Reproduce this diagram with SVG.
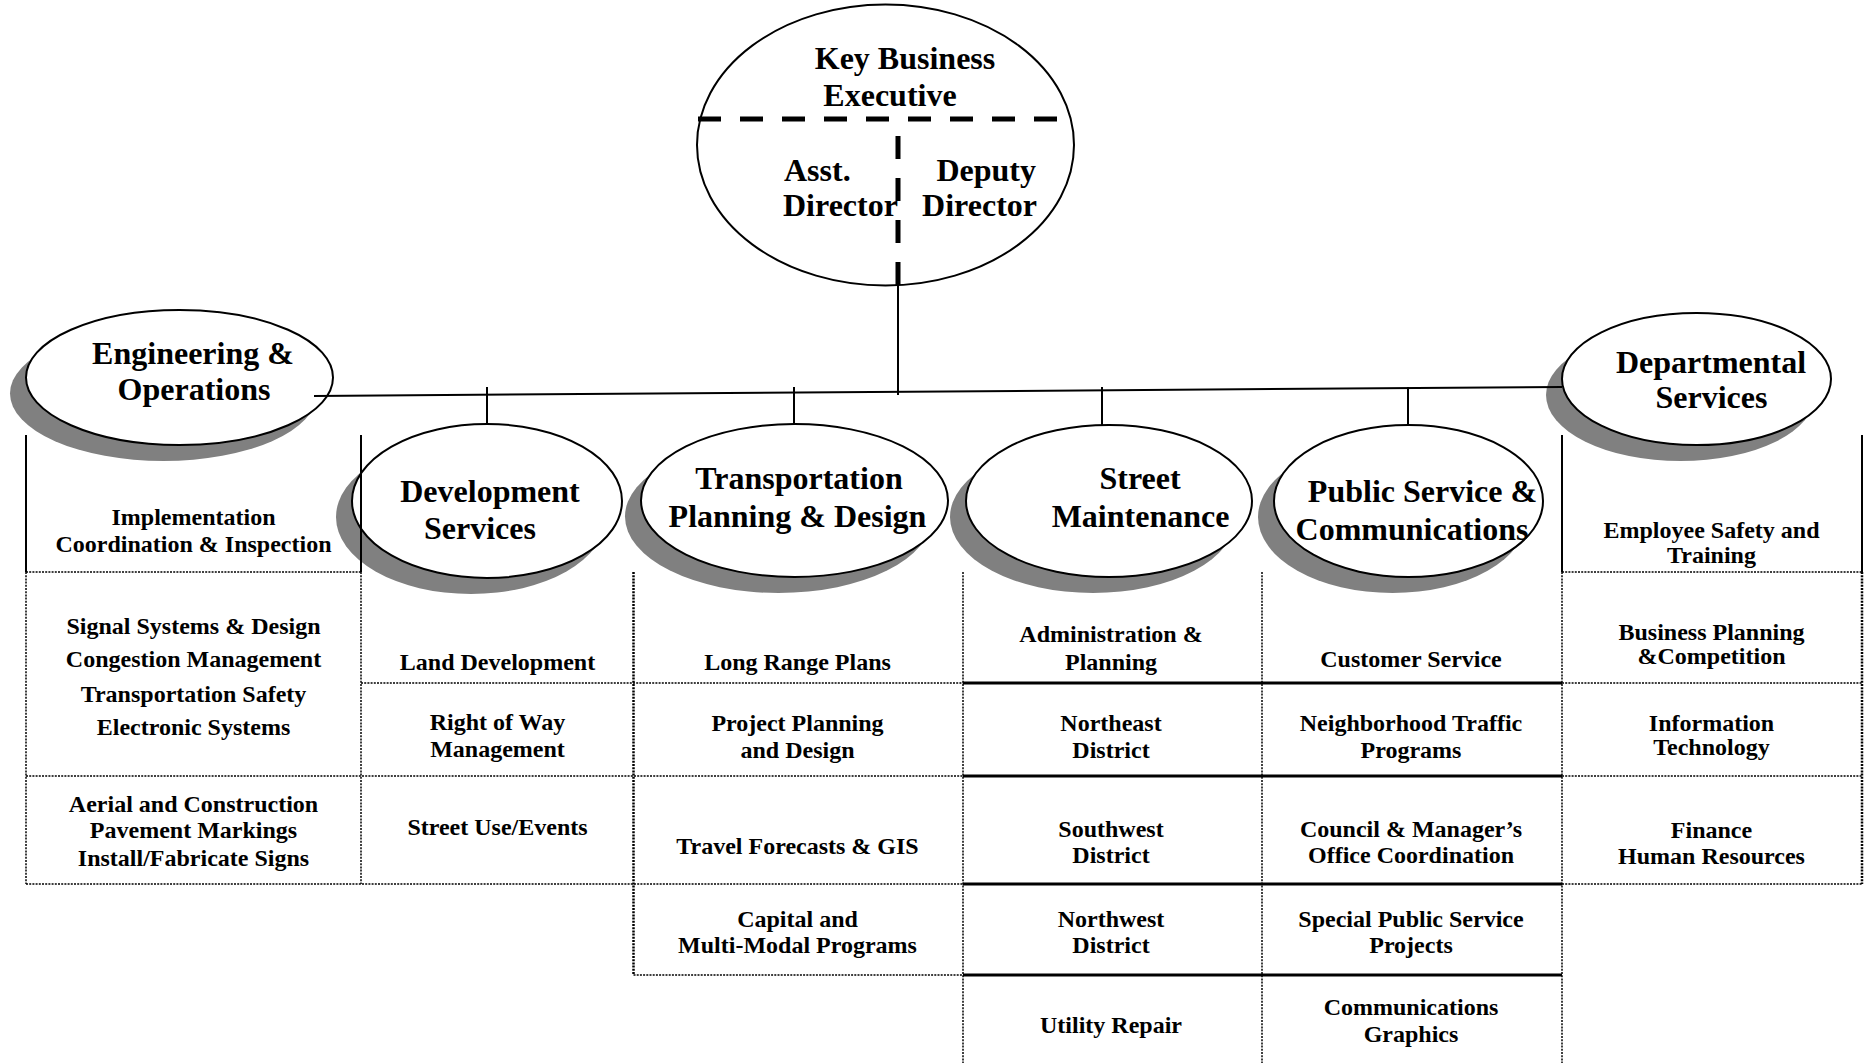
<svg xmlns="http://www.w3.org/2000/svg" width="1865" height="1063" viewBox="0 0 1865 1063">
  <style>
    .shadow { fill: #808080; }
    .oval { fill: #ffffff; stroke: #000000; stroke-width: 2; }
    .head { font-family: "Liberation Serif", "Times New Roman", serif; font-weight: bold; font-size: 32px; fill: #000000; text-anchor: middle; }
    .item { font-family: "Liberation Serif", "Times New Roman", serif; font-weight: bold; font-size: 24px; fill: #000000; text-anchor: middle; }
    .link { stroke: #000000; stroke-width: 2; fill: none; }
    .split { stroke: #000000; stroke-width: 5; stroke-dasharray: 23 19; fill: none; }
    .solid { stroke: #000000; stroke-width: 2; fill: none; }
    .rule { stroke: #000000; stroke-width: 3; fill: none; }
    .dot { stroke: #000000; stroke-width: 1.5; stroke-dasharray: 2 1.2; fill: none; }
    .dotb { stroke: #000000; stroke-width: 2.5; stroke-dasharray: 2 1.2; fill: none; }
  </style>
  <rect width="1865" height="1063" fill="#ffffff"/>

  <!-- executive oval, split into director areas -->
  <g id="key-business-executive">
    <ellipse class="oval" cx="885.5" cy="145" rx="188.5" ry="140.5"/>
    <line class="split" x1="698" y1="119" x2="1059" y2="119"/>
    <line class="split" x1="898" y1="136" x2="898" y2="285"/>
    <text class="head" x="905" y="69">Key Business</text>
    <text class="head" x="890" y="106">Executive</text>
    <text class="head" x="784" y="181" style="text-anchor:start">Asst.</text>
    <text class="head" x="783" y="216" style="text-anchor:start">Director</text>
    <text class="head" x="1036" y="181" style="text-anchor:end">Deputy</text>
    <text class="head" x="1037" y="216" style="text-anchor:end">Director</text>
  </g>

  <!-- division ovals with drop shadows -->
  <g id="engineering-operations">
    <ellipse class="shadow" cx="163.5" cy="393.5" rx="153.5" ry="67.5"/>
    <ellipse class="oval" cx="179.5" cy="377.5" rx="153.5" ry="67.5"/>
    <text class="head" x="193" y="364">Engineering &amp;</text>
    <text class="head" x="194" y="400">Operations</text>
  </g>

  <g id="development-services">
    <ellipse class="shadow" cx="471" cy="517" rx="135" ry="77"/>
    <ellipse class="oval" cx="487" cy="501" rx="135" ry="77"/>
    <text class="head" x="490" y="502">Development</text>
    <text class="head" x="480" y="539">Services</text>
  </g>

  <g id="transportation-planning-design">
    <ellipse class="shadow" cx="778.5" cy="516.5" rx="153.5" ry="76.5"/>
    <ellipse class="oval" cx="794.5" cy="500.5" rx="153.5" ry="76.5"/>
    <text class="head" x="799" y="489">Transportation</text>
    <text class="head" x="797.5" y="527">Planning &amp; Design</text>
  </g>

  <g id="street-maintenance">
    <ellipse class="shadow" cx="1093" cy="517" rx="143" ry="76"/>
    <ellipse class="oval" cx="1109" cy="501" rx="143" ry="76"/>
    <text class="head" x="1140" y="489">Street</text>
    <text class="head" x="1140.5" y="527">Maintenance</text>
  </g>

  <g id="public-service-communications">
    <ellipse class="shadow" cx="1392.5" cy="517" rx="134.5" ry="76"/>
    <ellipse class="oval" cx="1408.5" cy="501" rx="134.5" ry="76"/>
    <text class="head" x="1422.5" y="502">Public Service &amp;</text>
    <text class="head" x="1412" y="540">Communications</text>
  </g>

  <g id="departmental-services">
    <ellipse class="shadow" cx="1680.5" cy="395" rx="134.5" ry="66"/>
    <ellipse class="oval" cx="1696.5" cy="379" rx="134.5" ry="66"/>
    <text class="head" x="1711" y="373">Departmental</text>
    <text class="head" x="1711.5" y="408">Services</text>
  </g>

  <!-- reporting lines -->
  <g id="connectors">
    <line class="link" x1="898" y1="285" x2="898" y2="395"/>
    <line class="link" x1="314" y1="396" x2="1562" y2="387"/>
    <line class="link" x1="487" y1="387" x2="487" y2="424"/>
    <line class="link" x1="794" y1="387" x2="794" y2="424"/>
    <line class="link" x1="1102" y1="387" x2="1102" y2="425"/>
    <line class="link" x1="1408" y1="387" x2="1408" y2="425"/>
  </g>

  <!-- function table under the divisions -->
  <g id="function-grid">
    <!-- solid frame under the two side ovals -->
    <line class="solid" x1="26" y1="435" x2="26" y2="572"/>
    <line class="solid" x1="361" y1="435" x2="361" y2="572"/>
    <line class="solid" x1="1562" y1="435" x2="1562" y2="572"/>
    <line class="solid" x1="1862" y1="435" x2="1862" y2="572"/>

    <!-- dotted verticals -->
    <line class="dot" x1="26" y1="572" x2="26" y2="884"/>
    <line class="dot" x1="361" y1="572" x2="361" y2="884"/>
    <line class="dotb" x1="633.5" y1="572" x2="633.5" y2="975"/>
    <line class="dot" x1="963" y1="572" x2="963" y2="1063"/>
    <line class="dot" x1="1262" y1="572" x2="1262" y2="1063"/>
    <line class="dot" x1="1562" y1="572" x2="1562" y2="1063"/>
    <line class="dotb" x1="1862" y1="572" x2="1862" y2="884"/>

    <!-- dotted horizontals -->
    <line class="dot" x1="26" y1="572" x2="361" y2="572"/>
    <line class="dot" x1="1562" y1="572" x2="1862" y2="572"/>
    <line class="dot" x1="361" y1="683" x2="963" y2="683"/>
    <line class="dot" x1="1562" y1="683" x2="1862" y2="683"/>
    <line class="dot" x1="26" y1="776" x2="963" y2="776"/>
    <line class="dot" x1="1562" y1="776" x2="1862" y2="776"/>
    <line class="dot" x1="26" y1="884" x2="963" y2="884"/>
    <line class="dot" x1="1562" y1="884" x2="1862" y2="884"/>
    <line class="dot" x1="633.5" y1="975" x2="963" y2="975"/>

    <!-- solid rules in the street and public service columns -->
    <line class="rule" x1="963" y1="683" x2="1562" y2="683"/>
    <line class="rule" x1="963" y1="776" x2="1562" y2="776"/>
    <line class="rule" x1="963" y1="884" x2="1562" y2="884"/>
    <line class="rule" x1="963" y1="975" x2="1562" y2="975"/>
  </g>

  <g id="engineering-functions">
    <text class="item" x="193.5" y="525">Implementation</text>
    <text class="item" x="193.5" y="552">Coordination &amp; Inspection</text>
    <text class="item" x="193.5" y="634">Signal Systems &amp; Design</text>
    <text class="item" x="193.5" y="667">Congestion Management</text>
    <text class="item" x="193.5" y="702">Transportation Safety</text>
    <text class="item" x="193.5" y="735">Electronic Systems</text>
    <text class="item" x="193.5" y="812">Aerial and Construction</text>
    <text class="item" x="193.5" y="838">Pavement Markings</text>
    <text class="item" x="193.5" y="866">Install/Fabricate Signs</text>
  </g>

  <g id="development-functions">
    <text class="item" x="497.5" y="670">Land Development</text>
    <text class="item" x="497.5" y="730">Right of Way</text>
    <text class="item" x="497.5" y="757">Management</text>
    <text class="item" x="497.5" y="835">Street Use/Events</text>
  </g>

  <g id="transportation-functions">
    <text class="item" x="797.5" y="670">Long Range Plans</text>
    <text class="item" x="797.5" y="731">Project Planning</text>
    <text class="item" x="797.5" y="758">and Design</text>
    <text class="item" x="797.5" y="854">Travel Forecasts &amp; GIS</text>
    <text class="item" x="797.5" y="927">Capital and</text>
    <text class="item" x="797.5" y="953">Multi-Modal Programs</text>
  </g>

  <g id="street-functions">
    <text class="item" x="1111" y="642">Administration &amp;</text>
    <text class="item" x="1111" y="670">Planning</text>
    <text class="item" x="1111" y="731">Northeast</text>
    <text class="item" x="1111" y="758">District</text>
    <text class="item" x="1111" y="837">Southwest</text>
    <text class="item" x="1111" y="863">District</text>
    <text class="item" x="1111" y="927">Northwest</text>
    <text class="item" x="1111" y="953">District</text>
    <text class="item" x="1111" y="1033">Utility Repair</text>
  </g>

  <g id="public-service-functions">
    <text class="item" x="1411" y="667">Customer Service</text>
    <text class="item" x="1411" y="731">Neighborhood Traffic</text>
    <text class="item" x="1411" y="758">Programs</text>
    <text class="item" x="1411" y="837">Council &amp; Manager’s</text>
    <text class="item" x="1411" y="863">Office Coordination</text>
    <text class="item" x="1411" y="927">Special Public Service</text>
    <text class="item" x="1411" y="953">Projects</text>
    <text class="item" x="1411" y="1015">Communications</text>
    <text class="item" x="1411" y="1042">Graphics</text>
  </g>

  <g id="departmental-functions">
    <text class="item" x="1711.5" y="538">Employee Safety and</text>
    <text class="item" x="1711.5" y="563">Training</text>
    <text class="item" x="1711.5" y="640">Business Planning</text>
    <text class="item" x="1711.5" y="664">&amp;Competition</text>
    <text class="item" x="1711.5" y="731">Information</text>
    <text class="item" x="1711.5" y="755">Technology</text>
    <text class="item" x="1711.5" y="838">Finance</text>
    <text class="item" x="1711.5" y="864">Human Resources</text>
  </g>
</svg>
